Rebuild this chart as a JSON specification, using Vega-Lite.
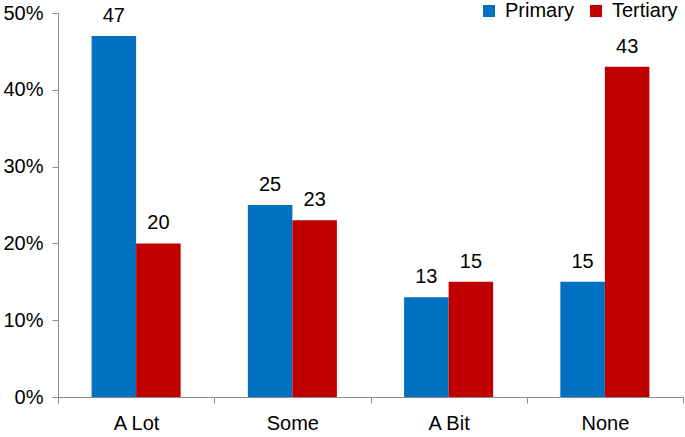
{
  "$schema": "https://vega.github.io/schema/vega-lite/v6.json",
  "width": 625,
  "height": 384,
  "autosize": {"type": "none"},
  "padding": {"left": 58, "top": 13, "right": 2, "bottom": 40},
  "config": {
    "view": {"stroke": null},
    "font": "Liberation Sans",
    "text": {"font": "Liberation Sans"}
  },
  "data": {
    "values": [
      {"category": "A Lot", "group": "Primary", "value": 47},
      {"category": "A Lot", "group": "Tertiary", "value": 20},
      {"category": "Some", "group": "Primary", "value": 25},
      {"category": "Some", "group": "Tertiary", "value": 23},
      {"category": "A Bit", "group": "Primary", "value": 13},
      {"category": "A Bit", "group": "Tertiary", "value": 15},
      {"category": "None", "group": "Primary", "value": 15},
      {"category": "None", "group": "Tertiary", "value": 43}
    ]
  },
  "encoding": {
    "x": {
      "field": "category",
      "type": "nominal",
      "sort": ["A Lot", "Some", "A Bit", "None"],
      "scale": {"paddingInner": 0, "paddingOuter": 0},
      "axis": {
        "title": null,
        "labelAngle": 0,
        "tickBand": "extent",
        "domainColor": "#8c8c8c",
        "tickColor": "#8c8c8c",
        "tickSize": 6,
        "labelFontSize": 20,
        "labelColor": "#000000",
        "labelPadding": 10,
        "grid": false
      }
    },
    "xOffset": {
      "field": "group",
      "type": "nominal",
      "scale": {"paddingInner": 0, "paddingOuter": 0.755}
    },
    "y": {
      "field": "value",
      "type": "quantitative",
      "scale": {"domain": [0, 50], "nice": false},
      "axis": {
        "title": null,
        "values": [0, 10, 20, 30, 40, 50],
        "labelExpr": "datum.value + '%'",
        "grid": false,
        "domainColor": "#8c8c8c",
        "tickColor": "#8c8c8c",
        "tickSize": 6,
        "labelFontSize": 20,
        "labelColor": "#000000",
        "labelPadding": 9
      }
    }
  },
  "layer": [
    {
      "mark": {"type": "bar"},
      "encoding": {
        "color": {
          "field": "group",
          "type": "nominal",
          "scale": {"domain": ["Primary", "Tertiary"], "range": ["#0070C0", "#C00000"]},
          "legend": {
            "title": null,
            "orient": "none",
            "direction": "horizontal",
            "legendX": 421,
            "legendY": -12,
            "symbolType": "square",
            "symbolSize": 144,
            "symbolStrokeWidth": 0,
            "labelFontSize": 20,
            "labelColor": "#000000",
            "labelOffset": 6,
            "columnPadding": 12
          }
        }
      }
    },
    {
      "mark": {"type": "text", "baseline": "alphabetic", "dy": -14, "fontSize": 20, "color": "#000000"},
      "encoding": {
        "text": {"field": "value", "type": "quantitative"}
      }
    }
  ]
}
